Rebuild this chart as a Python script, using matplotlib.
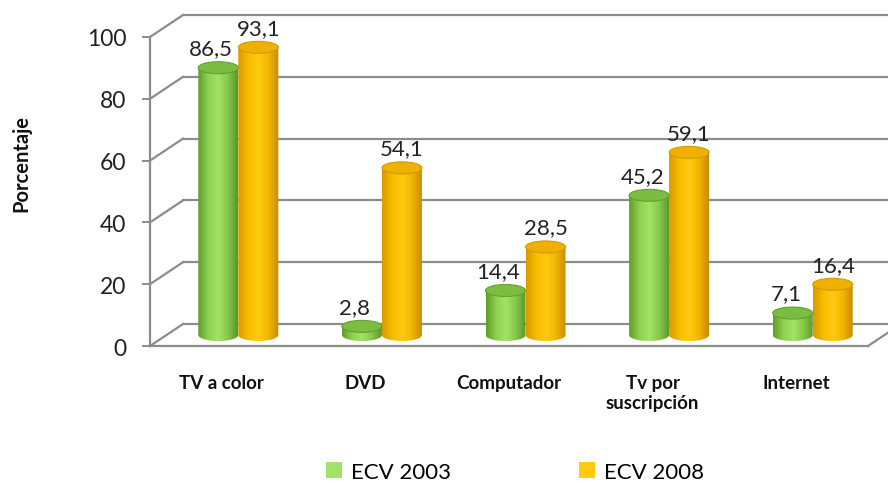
import numpy as np
import matplotlib
matplotlib.use("Agg")
import matplotlib.pyplot as plt
from matplotlib.colors import LinearSegmentedColormap
from matplotlib.patches import Ellipse, Patch
from matplotlib.path import Path

# ------------------- datos -------------------
categorias = ["TV a color", "DVD", "Computador", "Tv por\nsuscripción", "Internet"]
ecv_2003 = [86.5, 2.8, 14.4, 45.2, 7.1]
ecv_2008 = [93.1, 54.1, 28.5, 59.1, 16.4]
series = ["ECV 2003", "ECV 2008"]
ticks_y = [0, 20, 40, 60, 80, 100]
# ----------------------------------------------

plt.rcParams["font.family"] = ["Lato", "DejaVu Sans"]

# colores (borde oscuro, brillo, borde oscuro) y tapa
GRAD = {
    "ECV 2003": ["#5f9e2c", "#8fd052", "#a3e268", "#86c84a", "#5b9628"],
    "ECV 2008": ["#d99a00", "#f7bc00", "#ffcb10", "#f2b600", "#c98d00"],
}
TAPA = {"ECV 2003": "#7bbd3f", "ECV 2008": "#f0b000"}
BORDE_TAPA = {"ECV 2003": "#649f30", "ECV 2008": "#d29a00"}
GRIS = "#8c8c8c"

fig = plt.figure(figsize=(8.88, 4.85), dpi=100)
ax = fig.add_axes([150 / 888, 138 / 485, 718 / 888, 309 / 485])
ax.set_xlim(-0.5, len(categorias) - 0.5)
ax.set_ylim(0, 100)

# perspectiva: desplazamiento de la pared del fondo (en unidades de datos)
px_x = 718 / len(categorias)
px_y = 309 / 100
BX, BY = 33 / px_x, 22 / px_y
MX, MY = BX / 2, BY / 2
ANCHO = 40 / px_x
TAPA_H = 12 / px_y

x0, x1 = -0.5, len(categorias) - 0.5
# lineas de la pared del fondo y pared izquierda
for v in ticks_y:
    ax.plot([x0 + BX, x1 + BX], [v + BY, v + BY], color=GRIS, lw=1.6,
            clip_on=False, zorder=1)
    ax.plot([x0, x0 + BX], [v, v + BY], color=GRIS, lw=1.6, clip_on=False, zorder=1)
# piso
ax.plot([x0, x1], [0, 0], color=GRIS, lw=1.6, clip_on=False, zorder=1)
ax.plot([x1, x1 + BX], [0, BY], color=GRIS, lw=1.6, clip_on=False, zorder=1)

for s in ["top", "right", "bottom"]:
    ax.spines[s].set_visible(False)
ax.spines["left"].set_color(GRIS)
ax.spines["left"].set_linewidth(1.6)


def cilindro(cx, valor, serie, dx_label=0):
    base = MY
    top = MY + valor
    izq, der = cx - ANCHO / 2, cx + ANCHO / 2
    th = np.linspace(np.pi, 2 * np.pi, 50)
    xs = list(cx + ANCHO / 2 * np.cos(th)) + [der, izq]
    ys = list(base + TAPA_H / 2 * np.sin(th)) + [top, top]
    contorno = Path(np.column_stack([xs, ys]), closed=False)
    cmap = LinearSegmentedColormap.from_list(serie, GRAD[serie])
    grad = np.linspace(0, 1, 64).reshape(1, -1)
    im = ax.imshow(grad, cmap=cmap, aspect="auto", extent=[izq, der, base - TAPA_H, top],
                   zorder=3, clip_on=True)
    im.set_clip_path(contorno, ax.transData)
    ax.add_patch(Ellipse((cx, top), ANCHO, TAPA_H, facecolor=TAPA[serie],
                         edgecolor=BORDE_TAPA[serie], lw=0.8, zorder=4, clip_on=False))
    ax.annotate(f"{valor:.1f}".replace(".", ","), (cx, top), xytext=(dx_label, 7),
                textcoords="offset points", ha="center", va="bottom",
                fontsize=16, color="#222222", annotation_clip=False, zorder=5)


for i in range(len(categorias)):
    cilindro(i - ANCHO / 2 + MX, ecv_2003[i], "ECV 2003", dx_label=-5)
    cilindro(i + ANCHO / 2 + MX, ecv_2008[i], "ECV 2008")

ax.set_xlim(-0.5, len(categorias) - 0.5)
ax.set_ylim(0, 100)
ax.set_yticks(ticks_y)
ax.tick_params(axis="y", length=6, width=1.4, color=GRIS, pad=11, labelsize=16.5,
               labelcolor="#222222")
ax.set_xticks(range(len(categorias)))
ax.set_xticklabels(categorias, fontsize=13.5, fontweight="bold", color="#111111",
                   linespacing=1.2)
ax.tick_params(axis="x", length=0, pad=20)
ax.set_ylabel("Porcentaje", fontsize=14.5, fontweight="bold", color="#111111")
ax.yaxis.set_label_coords(-0.165, 0.595)

handles = [Patch(facecolor=GRAD[s][2], edgecolor="none") for s in series]
fig.legend(handles, series, loc="center", bbox_to_anchor=(0.58, 0.025), ncol=2,
           frameon=False, fontsize=16, handlelength=0.7, handleheight=0.7,
           handletextpad=0.4, columnspacing=5.8)

fig.savefig("out.png", dpi=100)
